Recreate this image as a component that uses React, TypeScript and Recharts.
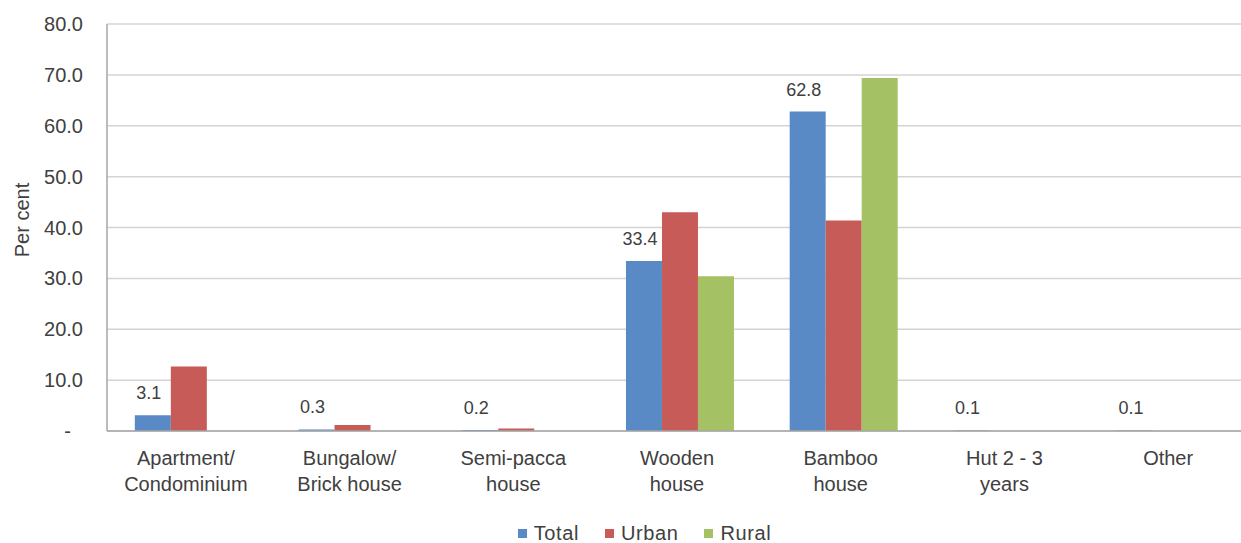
import { BarChart, Bar, XAxis, YAxis, CartesianGrid, Legend, LabelList } from "recharts";

const categories = [
  "Apartment/\nCondominium",
  "Bungalow/\nBrick house",
  "Semi-pacca\nhouse",
  "Wooden\nhouse",
  "Bamboo\nhouse",
  "Hut 2 - 3\nyears",
  "Other",
];
const total = [3.1, 0.3, 0.2, 33.4, 62.8, 0.1, 0.1];
const urban = [12.7, 1.2, 0.5, 43.0, 41.4, 0, 0];
const rural = [0, 0, 0, 30.4, 69.4, 0, 0];
const yTicks = [0, 10, 20, 30, 40, 50, 60, 70, 80];

const COLORS = { Total: "#5A8AC6", Urban: "#C65B57", Rural: "#A4C263" };
const FONT = "'Liberation Sans', Arial, sans-serif";

const data = categories.map((name, i) => ({
  name,
  Total: total[i],
  Urban: urban[i],
  Rural: rural[i],
}));

function XTick({ x, y, payload }: any) {
  const lines = String(payload.value).split("\n");
  return (
    <text x={x} y={y} textAnchor="middle" fill="#404040" fontSize={20} fontFamily={FONT}>
      {lines.map((l, i) => (
        <tspan key={i} x={x - 3} dy={i === 0 ? 32 : 26}>
          {l}
        </tspan>
      ))}
    </text>
  );
}

function YTick({ x, y, payload }: any) {
  const v = payload.value;
  return (
    <text
      x={v === 0 ? x - 12 : x}
      y={y}
      dy={7}
      textAnchor="end"
      fill="#404040"
      fontSize={20}
      fontFamily={FONT}
    >
      {v === 0 ? "-" : v.toFixed(1)}
    </text>
  );
}

function LegendContent() {
  const items = ["Total", "Urban", "Rural"] as const;
  return (
    <div
      style={{
        display: "flex",
        justifyContent: "center",
        paddingTop: 29,
        paddingLeft: 62,
        fontFamily: FONT,
        fontSize: 20,
        letterSpacing: 0.6,
        lineHeight: "22px",
        color: "#404040",
      }}
    >
      {items.map((k) => (
        <div key={k} style={{ display: "flex", alignItems: "center", marginRight: 26 }}>
          <span style={{ width: 9, height: 9, background: COLORS[k], marginRight: 7 }} />
          <span>{k}</span>
        </div>
      ))}
    </div>
  );
}

function YLabel() {
  return (
    <text
      x={29}
      y={220}
      transform="rotate(-90 29 220)"
      textAnchor="middle"
      fill="#404040"
      fontSize={20}
      fontFamily={FONT}
    >
      Per cent
    </text>
  );
}

export default function App() {
  return (
    <div
      style={{
        position: "fixed",
        top: 0,
        left: 0,
        width: 1241,
        height: 543,
        overflow: "hidden",
        background: "#fff",
      }}
    >
      <BarChart
        width={1253}
        height={543}
        data={data}
        margin={{ top: 24, right: 0, left: 0, bottom: 0 }}
        barCategoryGap="17%"
        barGap={0}
      >
        <CartesianGrid vertical={false} stroke="#D4D4D4" strokeWidth={1.5} />
        <XAxis
          dataKey="name"
          interval={0}
          height={62}
          tickLine={false}
          tickSize={0}
          axisLine={{ stroke: "#A6A6A6", strokeWidth: 1.5 }}
          tick={<XTick />}
        />
        <YAxis
          width={107}
          domain={[0, 80]}
          ticks={yTicks}
          tickLine={false}
          tickSize={0}
          tickMargin={24}
          axisLine={{ stroke: "#A6A6A6", strokeWidth: 1.5 }}
          tick={<YTick />}
          label={<YLabel />}
        />
        <Legend verticalAlign="bottom" height={50} content={<LegendContent />} />
        <Bar dataKey="Total" fill={COLORS.Total} isAnimationActive={false}>
          <LabelList
            dataKey="Total"
            position="top"
            offset={16}
            dx={-4}
            fill="#404040"
            fontSize={18}
            fontFamily={FONT}
            formatter={(v: any) => Number(v).toFixed(1)}
          />
        </Bar>
        <Bar dataKey="Urban" fill={COLORS.Urban} isAnimationActive={false} />
        <Bar dataKey="Rural" fill={COLORS.Rural} isAnimationActive={false} />
      </BarChart>
    </div>
  );
}
